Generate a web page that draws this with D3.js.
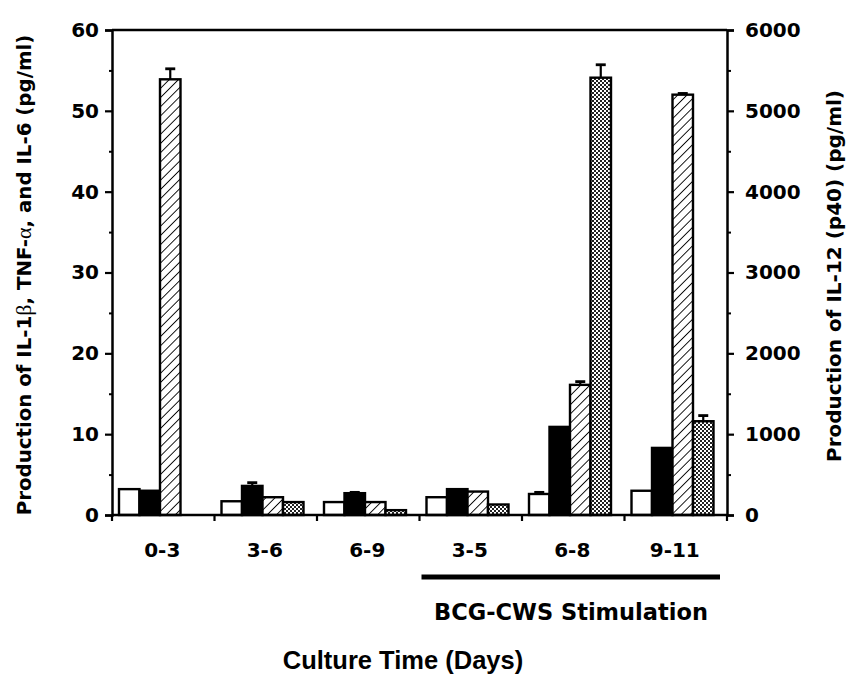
<!DOCTYPE html>
<html>
<head>
<meta charset="utf-8">
<script src="https://cdn.jsdelivr.net/npm/d3@7"></script>
<style>
  body { margin: 0; background: #fff; }
  svg { display: block; }
  text { font-family: "DejaVu Sans", sans-serif; font-weight: bold; fill: #000; }
</style>
</head>
<body>
<svg id="chart" width="850" height="676"></svg>
<script>
// Culture periods (days)
const categories = ["0-3", "3-6", "6-9", "3-5", "6-8", "9-11"];
// Cytokines on the left axis (pg/ml)
const il1b = [3.2, 1.7, 1.6, 2.2, 2.6, 3.0];
const tnfa = [3.0, 3.6, 2.7, 3.2, 10.9, 8.3];
const il6 = [53.9, 2.2, 1.6, 2.9, 16.1, 52.0];
// IL-12 (p40) on the right axis (pg/ml); none measured for 0-3
const il12 = [null, 160, 60, 130, 5410, 1160];
// Error bars (upper only)
const il1bErr = [0, 0, 0, 0, 0.2, 0];
const tnfaErr = [0, 0.4, 0.1, 0, 0, 0];
const il6Err = [1.3, 0, 0, 0, 0.4, 0.15];
const il12Err = [null, 0, 0, 0, 160, 70];
// Axis ticks
const leftTicks = [0, 10, 20, 30, 40, 50, 60];
const rightTicks = [0, 1000, 2000, 3000, 4000, 5000, 6000];
// Groups stimulated with BCG-CWS
const stimulated = ["3-5", "6-8", "9-11"];

const svg = d3.select("#chart");
const plotLeft = 112, plotRight = 727, plotTop = 30, plotBottom = 515;

const x = d3.scaleBand().domain(categories).range([plotLeft, plotRight]);
const yL = d3.scaleLinear().domain([0, 60]).range([plotBottom, plotTop]);
const yR = d3.scaleLinear().domain([0, 6000]).range([plotBottom, plotTop]);

// Fill patterns
const defs = svg.append("defs");
const hatch = defs.append("pattern").attr("id", "hatch")
  .attr("patternUnits", "userSpaceOnUse").attr("width", 6.5).attr("height", 6.5)
  .attr("patternTransform", "rotate(45)");
hatch.append("rect").attr("width", 6.5).attr("height", 6.5).attr("fill", "#fff");
hatch.append("line").attr("x1", 0).attr("y1", 0).attr("x2", 0).attr("y2", 6.5)
  .attr("stroke", "#000").attr("stroke-width", 1.8);

const dots = defs.append("pattern").attr("id", "dots")
  .attr("patternUnits", "userSpaceOnUse").attr("width", 4).attr("height", 4);
dots.append("rect").attr("width", 4).attr("height", 4).attr("fill", "#fff");
dots.append("rect").attr("x", 0).attr("y", 0).attr("width", 2).attr("height", 2).attr("fill", "#222");
dots.append("rect").attr("x", 2).attr("y", 2).attr("width", 2).attr("height", 2).attr("fill", "#222");

const series = [
  { key: "il1b", values: il1b, err: il1bErr, scale: yL, fill: "#fff" },
  { key: "tnfa", values: tnfa, err: tnfaErr, scale: yL, fill: "#000" },
  { key: "il6", values: il6, err: il6Err, scale: yL, fill: "url(#hatch)" },
  { key: "il12", values: il12, err: il12Err, scale: yR, fill: "url(#dots)" }
];

const barW = 20.5, offset = 7;
const bars = [];
series.forEach((s, si) => {
  categories.forEach((c, ci) => {
    if (s.values[ci] == null) return;
    bars.push({ c, si, v: s.values[ci], e: s.err[ci] || 0, s });
  });
});

const g = svg.append("g");
// Error bars drawn behind the bars
g.selectAll(".err").data(bars.filter(d => d.e > 0)).join("g").each(function (d) {
  const cx = x(d.c) + offset + barW * d.si + barW / 2;
  const y0 = d.s.scale(d.v), y1 = d.s.scale(d.v + d.e);
  const sel = d3.select(this);
  sel.append("line").attr("x1", cx).attr("x2", cx).attr("y1", y0).attr("y2", y1)
    .attr("stroke", "#000").attr("stroke-width", 2.2);
  sel.append("line").attr("x1", cx - 5).attr("x2", cx + 5).attr("y1", y1).attr("y2", y1)
    .attr("stroke", "#000").attr("stroke-width", 2.8);
});

g.selectAll(".bar").data(bars).join("rect")
  .attr("x", d => x(d.c) + offset + barW * d.si)
  .attr("width", barW)
  .attr("y", d => d.s.scale(d.v))
  .attr("height", d => plotBottom - d.s.scale(d.v))
  .attr("fill", d => d.s.fill)
  .attr("stroke", "#000")
  .attr("stroke-width", 2.4);

// Frame: top line
svg.append("line").attr("x1", plotLeft).attr("x2", plotRight).attr("y1", plotTop).attr("y2", plotTop)
  .attr("stroke", "#000").attr("stroke-width", 2.5);

// Left axis
const lAxis = svg.append("g").attr("transform", `translate(${plotLeft},0)`)
  .call(d3.axisLeft(yL).tickValues(leftTicks).tickSize(7).tickPadding(6).tickFormat(d3.format("d")));
svg.append("g").attr("transform", `translate(${plotLeft},0)`)
  .call(d3.axisLeft(yL).tickValues([5, 15, 25, 35, 45, 55]).tickSize(3).tickFormat(""))
  .call(a => a.select(".domain").remove())
  .selectAll("line").attr("stroke-width", 2);

// Right axis
const rAxis = svg.append("g").attr("transform", `translate(${plotRight},0)`)
  .call(d3.axisRight(yR).tickValues(rightTicks).tickSize(7).tickPadding(11).tickFormat(d3.format("d")));
svg.append("g").attr("transform", `translate(${plotRight},0)`)
  .call(d3.axisRight(yR).tickValues([500, 1500, 2500, 3500, 4500, 5500]).tickSize(4).tickFormat(""))
  .call(a => a.select(".domain").remove())
  .selectAll("line").attr("stroke-width", 2);

[lAxis, rAxis].forEach(a => {
  a.select(".domain").attr("stroke-width", 2.5);
  a.selectAll(".tick line").attr("stroke-width", 2.2);
  a.selectAll("text").attr("font-size", 20).attr("font-family", "DejaVu Sans, sans-serif")
    .attr("font-weight", "bold");
});

// Bottom axis: boundaries between groups
const bounds = categories.map(c => x(c)).concat([plotRight]);
svg.append("line").attr("x1", plotLeft).attr("x2", plotRight).attr("y1", plotBottom).attr("y2", plotBottom)
  .attr("stroke", "#000").attr("stroke-width", 2.5);
svg.selectAll(".xtick").data(bounds).join("line")
  .attr("x1", d => d).attr("x2", d => d).attr("y1", plotBottom).attr("y2", plotBottom + 6)
  .attr("stroke", "#000").attr("stroke-width", 2.2);

svg.selectAll(".xlab").data(categories).join("text")
  .attr("x", d => x(d) + x.bandwidth() / 2 - 1)
  .attr("y", 557)
  .attr("text-anchor", "middle")
  .attr("font-size", 20)
  .text(d => d);

// Stimulation bracket
const sx0 = x(stimulated[0]) + 2, sx1 = x(stimulated[stimulated.length - 1]) + x.bandwidth() - 7;
svg.append("line").attr("x1", sx0).attr("x2", sx1).attr("y1", 577).attr("y2", 577)
  .attr("stroke", "#000").attr("stroke-width", 5);
svg.append("text").attr("x", 571).attr("y", 620)
  .attr("text-anchor", "middle").attr("font-size", 22.5).text("BCG-CWS Stimulation");

// Axis titles
svg.append("text").attr("x", 403).attr("y", 669).attr("text-anchor", "middle")
  .style("font-family", "'Liberation Sans', Arial, sans-serif")
  .attr("font-size", 25.5).text("Culture Time (Days)");

const ylab = svg.append("text")
  .attr("transform", "translate(31,275) rotate(-90)")
  .attr("text-anchor", "middle").attr("font-size", 19.8);
ylab.append("tspan").text("Production of IL-1");
ylab.append("tspan").attr("font-family", "Liberation Serif, serif").attr("font-weight", "normal").attr("font-size", 22).text("β");
ylab.append("tspan").text(", TNF-");
ylab.append("tspan").attr("font-family", "Liberation Serif, serif").attr("font-weight", "normal").attr("font-size", 22).text("α");
ylab.append("tspan").text(", and IL-6 (pg/ml)");

svg.append("text")
  .attr("transform", "translate(841,276) rotate(-90)")
  .attr("text-anchor", "middle").attr("font-size", 20)
  .text("Production of IL-12 (p40) (pg/ml)");
</script>
</body>
</html>
